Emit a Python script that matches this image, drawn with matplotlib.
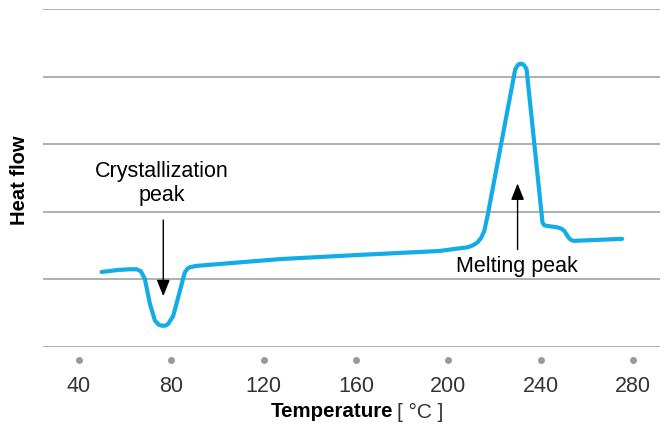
import matplotlib
matplotlib.use("Agg")
import matplotlib.pyplot as plt

# DSC curve
temperature = [49.8, 57.0, 62.1, 65.0, 66.8, 68.5, 70.7, 72.9, 74.5, 75.8, 77.3,
               78.6, 80.8, 83.7, 85.8, 87.0, 88.0, 90.9, 126.9, 160.0, 196.1,
               202.6, 208.4, 211.0, 212.7, 214.3, 215.6, 217.0, 229.0, 229.9,
               230.6, 231.4, 232.2, 233.0, 233.9, 240.8, 241.6, 243.0, 247.3,
               249.0, 250.2, 251.3, 252.3, 253.3, 254.5, 275.3]
heat_flow = [1.11, 1.14, 1.15, 1.15, 1.12, 1.01, 0.64, 0.39, 0.33, 0.315, 0.315,
             0.34, 0.46, 0.83, 1.10, 1.16, 1.18, 1.20, 1.30, 1.36, 1.42,
             1.45, 1.475, 1.51, 1.55, 1.62, 1.72, 1.94, 4.11, 4.16,
             4.185, 4.19, 4.185, 4.16, 4.11, 1.84, 1.80, 1.79, 1.77,
             1.75, 1.72, 1.66, 1.61, 1.58, 1.57, 1.60]

x_ticks = [40, 80, 120, 160, 200, 240, 280]
y_grid = [0, 1, 2, 3, 4, 5]

line_color = "#12ade8"
grid_color = "#9a9a9a"

plt.rcParams["font.family"] = ["Liberation Sans", "DejaVu Sans"]

fig = plt.figure(figsize=(6.68, 4.27), dpi=100)
ax = fig.add_axes([0.0644, 0.185, 0.9236, 0.7916])

ax.set_xlim(24.4, 291.7)
ax.set_ylim(0, 5)

for y in y_grid:
    ax.axhline(y, color=grid_color, lw=1.1, zorder=1)

ax.plot(temperature, heat_flow, color=line_color, lw=3.0,
        solid_joinstyle="round", solid_capstyle="round", zorder=3)

# tick dots below the axis
ax.plot(x_ticks, [-0.19] * len(x_ticks), "o", color=grid_color, ms=4,
        clip_on=False, zorder=2)

for s in ax.spines.values():
    s.set_visible(False)
ax.set_xticks(x_ticks)
ax.set_xticklabels([str(t) for t in x_ticks])
ax.set_yticks([])
ax.tick_params(axis="x", length=0, pad=20, labelsize=15.5, labelcolor="#333333")

# annotations
arrow = dict(arrowstyle="-|>,head_width=0.4,head_length=1.0", color="black", lw=1.0)
ax.annotate("", xy=(76.5, 0.71), xytext=(76.5, 1.92), arrowprops=arrow)
ax.text(75.8, 2.43, "Crystallization\npeak", ha="center", va="center",
        fontsize=15.5, linespacing=1.2)
ax.annotate("", xy=(230.0, 2.46), xytext=(230.0, 1.40), arrowprops=arrow)
ax.text(229.8, 1.20, "Melting peak", ha="center", va="center", fontsize=15.5)

# axis titles
fig.text(393 / 668, 1 - 412 / 427, "Temperature", ha="right", va="center",
         fontsize=14.8, fontweight="bold")
fig.text(397 / 668, 1 - 412 / 427, "[ °C ]", ha="left", va="center",
         fontsize=15, color="#333333")
fig.text(20 / 668, 1 - 180 / 427, "Heat flow", ha="center", va="center",
         rotation=90, fontsize=14.5, fontweight="bold")

fig.savefig("out.png", dpi=100)
